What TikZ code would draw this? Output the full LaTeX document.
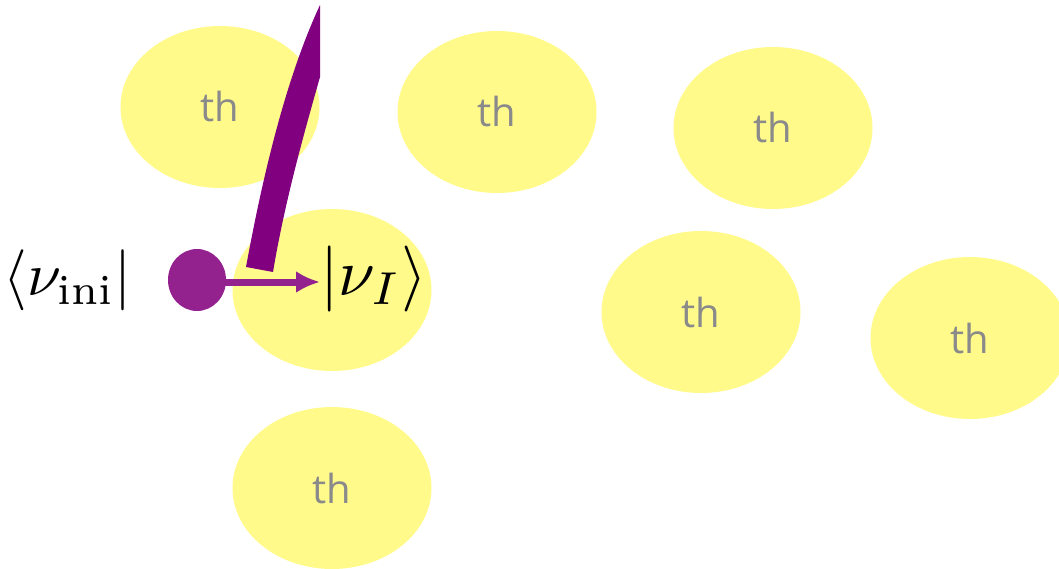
\documentclass[tikz,border=0pt]{standalone}
\usepackage{graphicx}
\usepackage{fontspec}
\usetikzlibrary{shapes.geometric,arrows.meta}
\newfontfamily\thfont{Open Sans}
\definecolor{blobyellow}{HTML}{FFFA8A}
\definecolor{thgray}{HTML}{8A8A8A}
\definecolor{dotpurple}{HTML}{93228F}
\definecolor{strokepurple}{HTML}{800080}
\begin{document}
\begin{tikzpicture}[x=1pt,y=-1pt,
  blob/.style={ellipse,fill=blobyellow,minimum width=199pt,minimum height=162pt,inner sep=0pt,
    font=\thfont\fontsize{40}{44}\selectfont,text=thgray},
  ket/.style={inner sep=0pt}]
\useasboundingbox (0,0) rectangle (1059,569);
\begin{scope}
\clip (0,0) rectangle (1059,569);
\node[blob] (b1) at (220,107) {\raisebox{-5pt}{th}};
\node[blob] (b2) at (497,112) {\raisebox{-5pt}{th}};
\node[blob] (b3) at (773,128) {\raisebox{-4pt}{th}};
\node[blob] (b4) at (332,290) {};
\node[blob] (b5) at (701,312) {\raisebox{-5pt}{th}};
\node[blob] (b6) at (970,338) {\raisebox{-5pt}{th}};
\node[blob] (b7) at (332,488) {\raisebox{-5pt}{th}};
\end{scope}
% brush stroke
\fill[strokepurple] (246,267) .. controls (262,180) and (285,80) .. (320,5)
  -- (320,77) .. controls (305,130) and (285,200) .. (273,272) -- cycle;
% dot
\node (dot) [ellipse,fill=dotpurple,minimum width=58pt,minimum height=62pt,inner sep=0pt] at (197,280) {};
\coordinate (start) at (183,282);
\node[ket,anchor=west] (ket) at (320,278.5) {\scalebox{6.6}{$|\nu_I\rangle$}};
\node[ket,anchor=east] (bra) at (132,280) {\scalebox{6.1}{$\langle\nu_{\mathrm{ini}}|$}};
\draw[line width=7pt,draw=dotpurple,-{Latex[length=24pt,width=22pt]}] (start) -- (start -| ket.west);
\end{tikzpicture}
\end{document}
